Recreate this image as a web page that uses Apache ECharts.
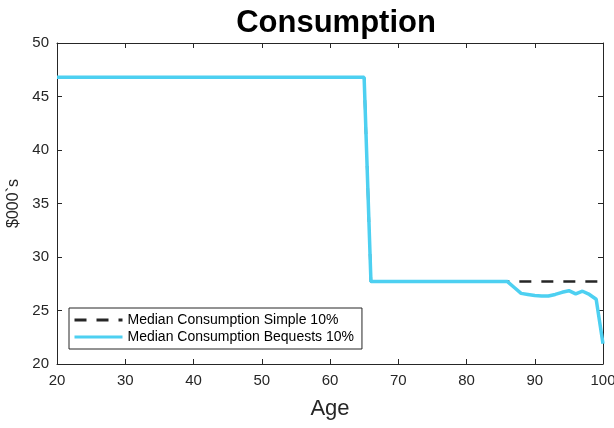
<!DOCTYPE html>
<html>
<head>
<meta charset="utf-8">
<script src="https://cdn.jsdelivr.net/npm/echarts@6/dist/echarts.min.js"></script>
<style>
  html, body { margin: 0; padding: 0; background: #fff; }
  #chart { width: 614px; height: 428px; }
</style>
</head>
<body>
<div id="chart"></div>
<script>
const ages = [20,21,22,23,24,25,26,27,28,29,30,31,32,33,34,35,36,37,38,39,40,41,42,43,44,45,46,47,48,49,50,
  51,52,53,54,55,56,57,58,59,60,61,62,63,64,65,66,67,68,69,70,71,72,73,74,75,76,77,78,79,80,
  81,82,83,84,85,86,87,88,89,90,91,92,93,94,95,96,97,98,99,100];

const simple = [46.8,46.8,46.8,46.8,46.8,46.8,46.8,46.8,46.8,46.8,46.8,46.8,46.8,46.8,46.8,46.8,46.8,46.8,46.8,46.8,46.8,
  46.8,46.8,46.8,46.8,46.8,46.8,46.8,46.8,46.8,46.8,46.8,46.8,46.8,46.8,46.8,46.8,46.8,46.8,46.8,46.8,
  46.8,46.8,46.8,46.8,46.8,27.7,27.7,27.7,27.7,27.7,27.7,27.7,27.7,27.7,27.7,27.7,27.7,27.7,27.7,27.7,
  27.7,27.7,27.7,27.7,27.7,27.7,27.7,27.7,27.7,27.7,27.7,27.7,27.7,27.7,27.7,27.7,27.7,27.7,27.7,27.7];

const bequests = [46.8,46.8,46.8,46.8,46.8,46.8,46.8,46.8,46.8,46.8,46.8,46.8,46.8,46.8,46.8,46.8,46.8,46.8,46.8,46.8,46.8,
  46.8,46.8,46.8,46.8,46.8,46.8,46.8,46.8,46.8,46.8,46.8,46.8,46.8,46.8,46.8,46.8,46.8,46.8,46.8,46.8,
  46.8,46.8,46.8,46.8,46.8,27.7,27.7,27.7,27.7,27.7,27.7,27.7,27.7,27.7,27.7,27.7,27.7,27.7,27.7,27.7,
  27.7,27.7,27.7,27.7,27.7,27.7,27.15,26.6,26.5,26.4,26.35,26.35,26.5,26.7,26.85,26.55,26.8,26.5,26.05,21.9];

const xTicks = [20, 30, 40, 50, 60, 70, 80, 90, 100];
const yTicks = [20, 25, 30, 35, 40, 45, 50];

const axisColor = "#262626";
const font = "Liberation Sans, Arial, Helvetica, sans-serif";

const chart = echarts.init(document.getElementById("chart"));

const baseX = {
  type: "value",
  min: xTicks[0],
  max: xTicks[xTicks.length - 1],
  interval: 10,
  axisLine: { show: true, onZero: false, lineStyle: { color: axisColor, width: 1 } },
  axisTick: { show: true, inside: true, length: 5, lineStyle: { color: axisColor } },
  splitLine: { show: false },
};
const baseY = {
  type: "value",
  min: yTicks[0],
  max: yTicks[yTicks.length - 1],
  interval: 5,
  axisLine: { show: true, onZero: false, lineStyle: { color: axisColor, width: 1 } },
  axisTick: { show: true, inside: true, length: 5, lineStyle: { color: axisColor } },
  splitLine: { show: false },
};

chart.setOption({
  animation: false,
  backgroundColor: "#fff",
  title: {
    text: "Consumption",
    left: 331,
    textAlign: "center",
    top: 3,
    textStyle: { fontFamily: font, fontSize: 31, fontWeight: "bold", color: "#000" },
  },
  grid: { left: 57, right: 11, top: 43, bottom: 64, outerBoundsMode: "none", containLabel: false },
  legend: {
    orient: "vertical",
    left: 69,
    top: 308,
    padding: [5, 8, 5, 4],
    itemGap: 3,
    itemWidth: 48,
    itemHeight: 16,
    borderColor: axisColor,
    borderWidth: 1,
    borderRadius: 0,
    backgroundColor: "#fff",
    itemStyle: { opacity: 0 },
    lineStyle: { width: 3 },
    textStyle: { fontFamily: font, fontSize: 14, color: "#000" },
    data: ["Median Consumption Simple 10%", "Median Consumption Bequests 10%"],
  },
  xAxis: [
    Object.assign({}, baseX, {
      position: "bottom",
      name: "Age",
      nameLocation: "middle",
      nameGap: 34,
      nameTextStyle: { fontFamily: font, fontSize: 22, color: axisColor },
      axisLabel: { fontFamily: font, fontSize: 15, color: axisColor, margin: 9 },
    }),
    Object.assign({}, baseX, { position: "top", axisLabel: { show: false } }),
  ],
  yAxis: [
    Object.assign({}, baseY, {
      position: "left",
      name: "$000`s",
      nameLocation: "middle",
      nameGap: 28,
      nameTextStyle: { fontFamily: font, fontSize: 16, color: axisColor },
      axisLabel: { fontFamily: font, fontSize: 15, color: axisColor, margin: 8 },
    }),
    Object.assign({}, baseY, { position: "right", axisLabel: { show: false } }),
  ],
  series: [
    {
      name: "Median Consumption Simple 10%",
      type: "line",
      showSymbol: false,
      symbol: "none",
      lineStyle: { color: "#262626", width: 2.5, type: [12, 10] },
      itemStyle: { color: "#262626" },
      data: ages.map((a, i) => [a, simple[i]]),
      z: 2,
    },
    {
      name: "Median Consumption Bequests 10%",
      type: "line",
      showSymbol: false,
      symbol: "none",
      lineStyle: { color: "#4DD0F1", width: 3.5 },
      itemStyle: { color: "#4DD0F1" },
      data: ages.map((a, i) => [a, bequests[i]]),
      z: 3,
    },
  ],
});
</script>
</body>
</html>
